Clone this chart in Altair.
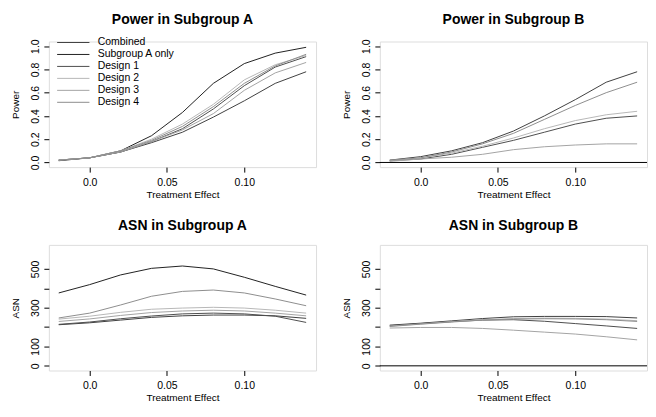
import altair as alt
import pandas as pd

effect = [-0.02, 0.0, 0.02, 0.04, 0.06, 0.08, 0.10, 0.12, 0.14]
series = ["Combined", "Subgroup A only", "Design 1", "Design 2", "Design 3", "Design 4"]
colors = ["#404040", "#222222", "#4e4e4e", "#b8b8b8", "#a4a4a4", "#8e8e8e"]

power_a_combined = [0.02, 0.04, 0.09, 0.17, 0.26, 0.39, 0.53, 0.68, 0.78]
power_a_suba = [0.015, 0.04, 0.10, 0.23, 0.43, 0.68, 0.85, 0.94, 0.99]
power_a_d1 = [0.02, 0.04, 0.09, 0.18, 0.29, 0.46, 0.66, 0.82, 0.91]
power_a_d2 = [0.02, 0.04, 0.10, 0.20, 0.33, 0.50, 0.71, 0.84, 0.92]
power_a_d3 = [0.02, 0.04, 0.09, 0.18, 0.28, 0.42, 0.62, 0.77, 0.86]
power_a_d4 = [0.02, 0.04, 0.10, 0.19, 0.31, 0.48, 0.68, 0.83, 0.93]

power_b_combined = [0.02, 0.05, 0.10, 0.17, 0.27, 0.40, 0.54, 0.69, 0.78]
power_b_d1 = [0.015, 0.03, 0.07, 0.13, 0.19, 0.26, 0.33, 0.38, 0.40]
power_b_d2 = [0.015, 0.04, 0.08, 0.14, 0.21, 0.29, 0.36, 0.41, 0.44]
power_b_d3 = [0.01, 0.03, 0.045, 0.07, 0.11, 0.135, 0.15, 0.16, 0.16]
power_b_d4 = [0.02, 0.04, 0.09, 0.16, 0.25, 0.37, 0.49, 0.60, 0.69]

asn_a_combined = [212, 222, 236, 250, 258, 262, 262, 258, 245]
asn_a_suba = [376, 419, 469, 503, 515, 500, 457, 410, 365]
asn_a_d1 = [214, 226, 243, 257, 268, 272, 268, 256, 224]
asn_a_d2 = [241, 256, 276, 292, 298, 302, 298, 287, 272]
asn_a_d3 = [229, 242, 260, 275, 283, 287, 283, 272, 258]
asn_a_d4 = [247, 272, 314, 359, 384, 391, 376, 345, 310]

asn_b_combined = [210, 220, 232, 244, 253, 255, 255, 254, 247]
asn_b_d1 = [207, 218, 228, 236, 238, 230, 218, 206, 193]
asn_b_d2 = [205, 216, 228, 238, 244, 246, 245, 241, 233]
asn_b_d3 = [195, 198, 198, 193, 184, 174, 164, 150, 134]
asn_b_d4 = [203, 215, 226, 236, 241, 243, 242, 238, 229]

zero_line = [0]

x_ticks = [0.0, 0.05, 0.10]
power_ticks = [0.0, 0.2, 0.4, 0.6, 0.8, 1.0]
asn_ticks = [0, 100, 200, 300, 400, 500]

FONT = "Liberation Sans"


def frame(named):
    rows = []
    for name, vals in named:
        for e, v in zip(effect, vals):
            rows.append({"effect": e, "value": v, "series": name})
    return pd.DataFrame(rows)


def panel(df, title, ytitle, ydomain, yticks, ylabel_expr, legend, zero):
    xaxis = alt.Axis(values=x_ticks,
                     labelExpr="datum.value == 0 ? '0.0' : format(datum.value, '.2f')",
                     title="Treatment Effect", grid=False, domain=False,
                     tickSize=5, tickColor="black", labelColor="black",
                     labelFontSize=10.5, titleFontSize=10, titleFontWeight="normal",
                     labelPadding=5, titlePadding=2, labelFont=FONT, titleFont=FONT,
                     titleColor="black", labelOverlap=False)
    yaxis = alt.Axis(values=yticks, labelExpr=ylabel_expr, title=ytitle, grid=False,
                     domain=False, tickSize=5, tickColor="black", labelColor="black",
                     labelAngle=270, labelAlign="center", labelBaseline="bottom",
                     labelFontSize=10.5, titleFontSize=10, titleFontWeight="normal",
                     labelPadding=3, titlePadding=10, labelFont=FONT, titleFont=FONT,
                     titleColor="black", labelOverlap=False)
    if legend:
        leg = alt.Legend(orient="none", legendX=18, legendY=-5.5, title=None,
                         symbolType="M-2.7,0H2.7", symbolSize=144, symbolStrokeWidth=1,
                         symbolFillColor="transparent",
                         labelFontSize=10.5, labelFont=FONT, labelColor="black",
                         rowPadding=-0.5, labelOffset=18, padding=0)
    else:
        leg = None
    yscale = alt.Scale(domain=ydomain, nice=False, zero=False)
    lines = alt.Chart(df).mark_line(strokeWidth=1, clip=True).encode(
        x=alt.X("effect:Q", scale=alt.Scale(domain=[-0.0264, 0.1464], nice=False, zero=False), axis=xaxis),
        y=alt.Y("value:Q", scale=yscale, axis=yaxis),
        color=alt.Color("series:N", scale=alt.Scale(domain=series, range=colors), sort=series, legend=leg),
    )
    layers = [lines]
    if zero:
        rule = alt.Chart(pd.DataFrame({"value": zero_line})).mark_rule(color="black", strokeWidth=1).encode(
            y=alt.Y("value:Q", scale=yscale, axis=yaxis))
        layers.append(rule)
    return alt.layer(*layers).properties(
        width=268, height=126,
        title=alt.TitleParams(title, fontSize=14, font=FONT, fontWeight="bold", offset=12,
                              frame="group", anchor="middle", color="black"))


pa = panel(frame([("Combined", power_a_combined), ("Subgroup A only", power_a_suba),
                  ("Design 1", power_a_d1), ("Design 2", power_a_d2),
                  ("Design 3", power_a_d3), ("Design 4", power_a_d4)]),
           "Power in Subgroup A", "Power", [-0.04, 1.04], power_ticks,
           "format(datum.value, '.1f')", True, False)
pb = panel(frame([("Combined", power_b_combined), ("Design 1", power_b_d1),
                  ("Design 2", power_b_d2), ("Design 3", power_b_d3), ("Design 4", power_b_d4)]),
           "Power in Subgroup B", "Power", [-0.04, 1.04], power_ticks,
           "format(datum.value, '.1f')", False, True)
aa = panel(frame([("Combined", asn_a_combined), ("Subgroup A only", asn_a_suba),
                  ("Design 1", asn_a_d1), ("Design 2", asn_a_d2),
                  ("Design 3", asn_a_d3), ("Design 4", asn_a_d4)]),
           "ASN in Subgroup A", "ASN", [-24, 624], asn_ticks,
           "(datum.value == 200 || datum.value == 400) ? '' : datum.label", False, False)
ab = panel(frame([("Combined", asn_b_combined), ("Design 1", asn_b_d1),
                  ("Design 2", asn_b_d2), ("Design 3", asn_b_d3), ("Design 4", asn_b_d4)]),
           "ASN in Subgroup B", "ASN", [-24, 624], asn_ticks,
           "(datum.value == 200 || datum.value == 400) ? '' : datum.label", False, True)

chart = alt.concat(pa, pb, aa, ab, columns=2, spacing={"row": 78, "column": 64}, bounds="flush").properties(
    padding={"left": 10, "top": 11, "right": 8, "bottom": 5}
).configure_view(stroke="black", strokeWidth=1).configure(background="white")

chart.save("out.html", embed_options={"renderer": "svg", "actions": False})
